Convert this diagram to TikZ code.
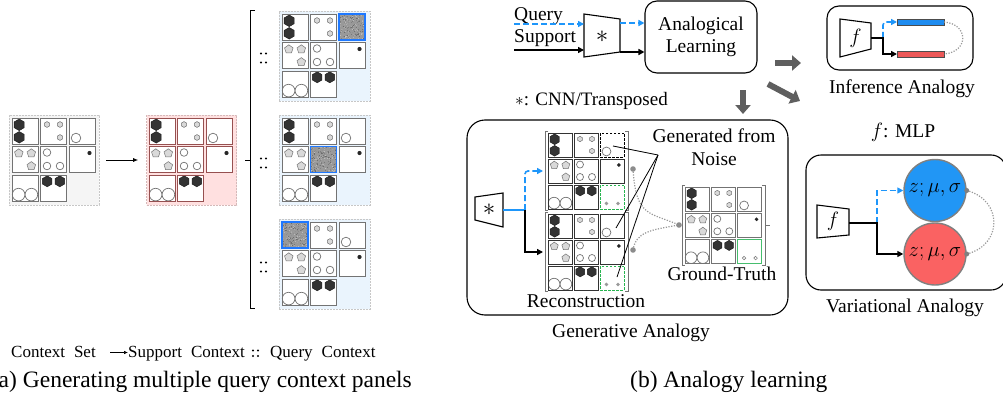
\documentclass[tikz,border=0pt]{standalone}
\usepackage{fontspec}
\setmainfont{Liberation Serif}
\usetikzlibrary{arrows.meta}

\definecolor{qblue}{RGB}{30,150,250}
\definecolor{barblue}{RGB}{30,140,240}
\definecolor{barred}{RGB}{236,88,88}
\definecolor{cblue}{RGB}{33,150,245}
\definecolor{cred}{RGB}{250,98,98}
\definecolor{okgreen}{RGB}{40,180,80}
\definecolor{gtgreen}{RGB}{70,190,110}
\definecolor{noiseblue}{RGB}{30,120,255}
\definecolor{supline}{RGB}{150,80,80}
\definecolor{ctxfill}{RGB}{245,245,245}
\definecolor{supfill}{RGB}{255,224,224}
\definecolor{qryfill}{RGB}{234,244,253}
\definecolor{bigarrowc}{RGB}{95,95,95}

\newcommand\fmid{\fontsize{19.5}{21.5}\selectfont}
\newcommand\fcap{\fontsize{23.5}{26}\selectfont}
\newcommand\fsmall{\fontsize{17}{19}\selectfont}

\tikzset{
  pcell/.style={draw=black!55,line width=0.8pt},
  scell/.style={draw=supline,line width=0.8pt},
  ncell/.style={draw=noiseblue,line width=1.1pt},
  gcell/.style={draw=black!80,line width=0.8pt},
  dcell/.style={draw=black,line width=0.8pt,dash pattern=on 2.5pt off 1.5pt},
  grcell/.style={draw=okgreen,line width=0.8pt,dash pattern=on 2.5pt off 1.5pt},
  gtcell/.style={draw=gtgreen,line width=1pt},
  hexblk/.style={fill=black!80,draw=black!90,line width=0.4pt},
  graypoly/.style={fill=black!15,draw=black!55,line width=0.5pt},
  hollow/.style={fill=white,draw=black!55,line width=0.7pt},
  panelbg/.style={draw=black!22,dash pattern=on 2pt off 1pt,line width=0.6pt,
    minimum width=90pt,minimum height=90pt,inner sep=0pt},
  brk/.style={draw=black!55,line width=0.8pt},
  box/.style={draw=black,line width=1.1pt,fill=white},
  solidarrow/.style={draw=black,line width=1.5pt,-{Triangle[length=6pt,width=6pt]}},
  dasharrow/.style={draw=qblue,line width=1.6pt,dash pattern=on 6pt off 3pt,-{Triangle[length=6pt,width=6pt]}},
  bigarrow/.style={draw=bigarrowc,line width=6pt,-{Triangle[length=9pt,width=15pt]}},
  gdots/.style={draw=black!40,line width=1.2pt,dash pattern=on 1.2pt off 1.5pt},
  trap/.style={draw=black,line width=1.1pt,fill=white},
  lbl/.style={font=\fmid,inner sep=0pt},
}

% polygons drawn in cell-local units
\newcommand\hexs[3][]{\filldraw[#1,shift={(#2)}] (30:#3)--(90:#3)--(150:#3)--(210:#3)--(270:#3)--(330:#3)--cycle;}
\newcommand\pents[3][]{\filldraw[#1,shift={(#2)}] (-90:#3)--(-18:#3)--(54:#3)--(126:#3)--(198:#3)--cycle;}

% contents of the nine cells (cell is 26 x 26 units, origin top left)
\newcommand\cellA{\hexs[hexblk]{7.2,6.8}{5.8}\hexs[hexblk]{7.2,19.3}{5.8}}
\newcommand\cellB{\hexs[graypoly]{6.5,6.5}{2.9}\hexs[graypoly]{19.5,6.5}{2.9}\hexs[graypoly]{19.5,19.5}{2.9}}
\newcommand\cellC{\draw[hollow] (7,20) circle (4.8);}
\newcommand\cellD{\pents[graypoly]{6.8,6.8}{4.5}\pents[graypoly]{19.3,6.8}{4.5}\pents[graypoly]{19.3,19.6}{4.5}}
\newcommand\cellE{\draw[hollow] (6.5,6) circle (3.8) (6.5,19.5) circle (3.8) (19.5,19.5) circle (3.8);}
\newcommand\cellF{\fill[black!85] (20.5,6.5) circle (2.1);}
\newcommand\cellG{\draw[hollow] (6.6,19.6) circle (6.3) (19.4,19.6) circle (6.3);}
\newcommand\cellH{\hexs[hexblk]{6.7,6.3}{5.5}\hexs[hexblk]{19.3,6.3}{5.5}}
\newcommand\cellI{\fill[black!40] (7,20) circle (2.1) (19.5,20) circle (2.1);}
\newcommand\cellJ{\draw[black!50,line width=0.6pt] (7,20) circle (1.9) (19.5,20) circle (1.9);}
\newcommand\cellN{\fill[black!40] (0,0) rectangle (26,26);
  \foreach \k in {1,...,260}{\pgfmathsetmacro\px{rnd*25.2}\pgfmathsetmacro\py{rnd*25.2}%
    \pgfmathtruncatemacro\g{25+rnd*35}\fill[black!\g] (\px,\py) rectangle +(0.8,0.8);}}

\newcommand\framecell[1]{\draw[#1] (0,0) rectangle (26,26);}
% #1,#2 origin, #3 pitch, #4 scale, #5 list content/frame-style
\newcommand\drawgrid[5]{%
  \foreach \nm/\fs [count=\i from 0] in {#5}{%
    \pgfmathtruncatemacro\rr{floor(\i/3)}%
    \pgfmathtruncatemacro\cc{\i-3*\rr}%
    \begin{scope}[shift={({#1+\cc*#3},{#2+\rr*#3})},scale=#4]
      \fill[white] (0,0) rectangle (26,26);
      \csname cell\nm\endcsname
      \expandafter\framecell\expandafter{\fs}%
    \end{scope}}}
% square brackets left and right of a grid
\newcommand\sqbr[4]{%
  \draw[brk] ({#1+3},#3) -- (#1,#3) -- (#1,#4) -- ({#1+3},#4);
  \draw[brk] ({#2-3},#3) -- (#2,#3) -- (#2,#4) -- ({#2-3},#4);}
\newcommand\ratio[2]{\fill (#1-2.5,#2-4.5) circle (1.2) (#1+2.5,#2-4.5) circle (1.2)
  (#1-2.5,#2+4.5) circle (1.2) (#1+2.5,#2+4.5) circle (1.2);}

\begin{document}
\begin{tikzpicture}[x=1pt,y=-1pt]
\pgfmathsetseed{11}
\useasboundingbox (0,0) rectangle (1003,396);

% ================= (a) panels =================
\node[panelbg,fill=ctxfill] (ctx) at (54,160) {};
\drawgrid{12}{118}{28.5}{1}{A/pcell,B/pcell,C/pcell,D/pcell,E/pcell,F/pcell,G/pcell,H/pcell}
\node[panelbg,fill=supfill,draw=supline!40] (sup) at (191.5,160) {};
\drawgrid{149}{118}{28.5}{1}{A/scell,B/scell,C/scell,D/scell,E/scell,F/scell,G/scell,H/scell}
\draw[line width=0.8pt,-{Latex[length=5pt,width=4pt]}] ([xshift=7pt]ctx.east) -- ([xshift=-8pt]sup.west);

\node[panelbg,fill=qryfill,minimum width=91pt] (q1) at (324.5,56) {};
\drawgrid{282}{14}{28.5}{1}{A/pcell,B/pcell,N/ncell,D/pcell,E/pcell,F/pcell,G/pcell,H/pcell}
\node[panelbg,fill=qryfill,minimum width=91pt] (q2) at (324.5,160) {};
\drawgrid{282}{118}{28.5}{1}{A/pcell,B/pcell,C/pcell,D/pcell,N/ncell,F/pcell,G/pcell,H/pcell}
\node[panelbg,fill=qryfill,minimum width=91pt] (q3) at (324.5,264) {};
\drawgrid{282}{222}{28.5}{1}{N/ncell,B/pcell,C/pcell,D/pcell,E/pcell,F/pcell,G/pcell,H/pcell}

% bracket grouping the query panels
\draw[line width=1pt] (255,11) -- (250,11) -- (250,308) -- (255,308);
\draw[line width=1pt] (250,160) -- (245,160);
\ratio{263.5}{58}
\ratio{263.5}{163}
\ratio{263.5}{267}

% legend line
\node[font=\fsmall,anchor=base west,inner sep=0pt] (lcs) at (11,357) {Context\hspace{9pt}Set};
\node[font=\fsmall,anchor=base west,inner sep=0pt] (lsc) at (128,357) {Support\hspace{9pt}Context};
\node[font=\fsmall,anchor=base west,inner sep=0pt] (lqc) at (270,357) {Query\hspace{9pt}Context};
\coordinate (legs) at (110,352.5);
\draw[line width=0.7pt,-{Latex[length=4pt,width=3.5pt]}] (legs) -- (legs -| lsc.west);
\fill (253,350.5) circle (1.1) (258,350.5) circle (1.1) (253,356) circle (1.1) (258,356) circle (1.1);

\node[font=\fcap,anchor=base east,inner sep=0pt] (capa) at (412,387) {(a) Generating multiple query context panels};

% ================= (b) analogy learning =================
\node[lbl,anchor=base west] (qlab) at (514,21) {Query};
\node[lbl,anchor=base west] (slab) at (514,42) {Support};
\draw[trap] (584,14) -- (620,19) -- (620,52) -- (584,57) -- cycle;
\node[lbl,font=\fontsize{23}{25}\selectfont] (enc) at (602,37) {$\ast$};
\coordinate (qin) at (514,24);
\coordinate (sin) at (514,50);
\draw[dasharrow] (qin) -- (584,24);
\draw[solidarrow] (sin) -- (584,50);

\node[box,rounded corners=12pt,minimum width=112pt,minimum height=72pt,align=center,font=\fmid] (al) at (701,37) {Analogical\\Learning};
\draw[dasharrow] (620,23) -- (al.west |- 0,23);
\draw[solidarrow] (620,52) -- (al.west |- 0,52);

\node[lbl,anchor=base west,font=\fontsize{19}{21}\selectfont] (cnn) at (515,105) {$\ast$: CNN/Transposed};

% thick grey arrows out of the learning block
\coordinate (a1s) at (775,63); \coordinate (a1e) at (801,63);
\coordinate (a2s) at (768,84); \coordinate (a2e) at (800,101);
\coordinate (a3s) at (743,90); \coordinate (a3e) at (743,114);
\draw[bigarrow] (a1s) -- (a1e);
\draw[bigarrow] (a2s) -- (a2e);
\draw[bigarrow] (a3s) -- (a3e);

% ---- Inference analogy ----
\node[box,rounded corners=12pt,minimum width=146pt,minimum height=64pt] (inf) at (900,38) {};
\draw[trap] (840,19) -- (871,23) -- (871,49) -- (840,57) -- cycle;
\node[lbl] (finf) at (855.5,38) {$f$};
\draw[fill=barblue,draw=black!70,line width=0.8pt] (897,19) rectangle (944,25);
\draw[fill=barred,draw=black!70,line width=0.8pt] (897,51) rectangle (944,57);
\coordinate (bb) at (944,22); \coordinate (rb) at (944,54);
\draw[dasharrow,rounded corners=3pt] (883,38) -- (883,22) -- (897,22);
\draw[solidarrow] (871,38) -- (883,38) -- (883,54) -- (897,54);
\draw[gdots] (bb) .. controls (969,24) and (969,52) .. (rb);
\node[lbl,anchor=base] (infl) at (902,93) {Inference Analogy};

\node[lbl,anchor=base] (mlp) at (903,137) {$f$: MLP};

% ---- Variational analogy ----
\draw[box,rounded corners=15pt] (806,155) rectangle (1006,290);
\node[circle,fill=cblue,draw=black!50,line width=1.4pt,minimum size=62pt,inner sep=0pt,font=\fontsize{21}{23}\selectfont] (zb) at (935,190.5) {$z;\mu,\sigma$};
\node[circle,fill=cred,draw=black!50,line width=1.4pt,minimum size=62pt,inner sep=0pt,font=\fontsize{21}{23}\selectfont] (zr) at (935,254) {$z;\mu,\sigma$};
\draw[trap] (817,205) -- (849,209) -- (849,235) -- (817,238) -- cycle;
\node[lbl] (fvar) at (833,221.5) {$f$};
\draw[dasharrow] (877,223) -- (877,190.5) -- (zb.west);
\draw[solidarrow] (849,223) -- (877,223) -- (877,254) -- (zr.west);
\draw[gdots] (zb.east) .. controls (1003,200) and (1003,245) .. (zr.east);
\fill[black!50] (zb.east) circle (2.5) (zr.east) circle (2.5);
\node[lbl,anchor=base] (varl) at (905,312) {Variational Analogy};

% ---- Generative analogy ----
\draw[box,rounded corners=18pt] (467,120) rectangle (788,315);
\node[lbl,anchor=base] (genl) at (631,337) {Generative Analogy};
\draw[trap] (475,197) -- (503,193) -- (503,227) -- (475,220) -- cycle;
\node[lbl,font=\fontsize{23}{25}\selectfont] (dec) at (489,210) {$\ast$};
\draw[draw=qblue,line width=1.6pt] (503,210) -- (525,210);
\draw[dasharrow,rounded corners=3pt] (525,210) -- (525,171) -- (543,171);
\draw[solidarrow] (525,210) -- (525,252) -- (543,252);

\drawgrid{548}{133}{26}{0.923}{A/gcell,B/gcell,C/dcell,D/gcell,E/gcell,F/gcell,G/gcell,H/gcell,I/grcell}
\drawgrid{548}{214}{26}{0.923}{A/gcell,B/gcell,C/gcell,D/gcell,E/gcell,F/gcell,G/gcell,H/gcell,I/grcell}
\sqbr{545}{628}{131}{210}
\sqbr{545}{628}{212}{291}
\drawgrid{685}{187}{26.3}{0.923}{A/pcell,B/pcell,C/pcell,D/pcell,E/pcell,F/pcell,G/pcell,H/pcell,J/gtcell}
\sqbr{682}{765}{185}{265}
\draw[brk] (765,225) -- (770,225);

\node[lbl,anchor=base] (recl) at (586,307) {Reconstruction};
\node[lbl,anchor=base] (gtl) at (722,280) {Ground-Truth};
\node[lbl,anchor=base,align=center] (noisel) at (714,142) {Generated from};
\node[lbl,anchor=base] (noisel2) at (714,165) {Noise};

% pointers from the noise label to generated cells
\coordinate (apex) at (658,155);
\draw[line width=0.8pt] (apex) -- (613,146);
\draw[line width=0.8pt] (apex) -- (616,228);
\draw[line width=0.8pt] (apex) -- (617,277);

% dotted links from the reconstructions to the ground truth
\coordinate (r1) at (633,169);
\coordinate (r2) at (633,250);
\coordinate (gt) at (679,225);
\draw[gdots] (r1) .. controls (636,218) and (650,212) .. (gt);
\draw[gdots] (r2) .. controls (636,232) and (650,230) .. (gt);
\fill[black!45] (r1) circle (2.8) (r2) circle (2.8) (gt) circle (2.8);

\node[font=\fcap,anchor=base west,inner sep=0pt] (capb) at (630,387) {(b) Analogy learning};
\end{tikzpicture}
\end{document}
